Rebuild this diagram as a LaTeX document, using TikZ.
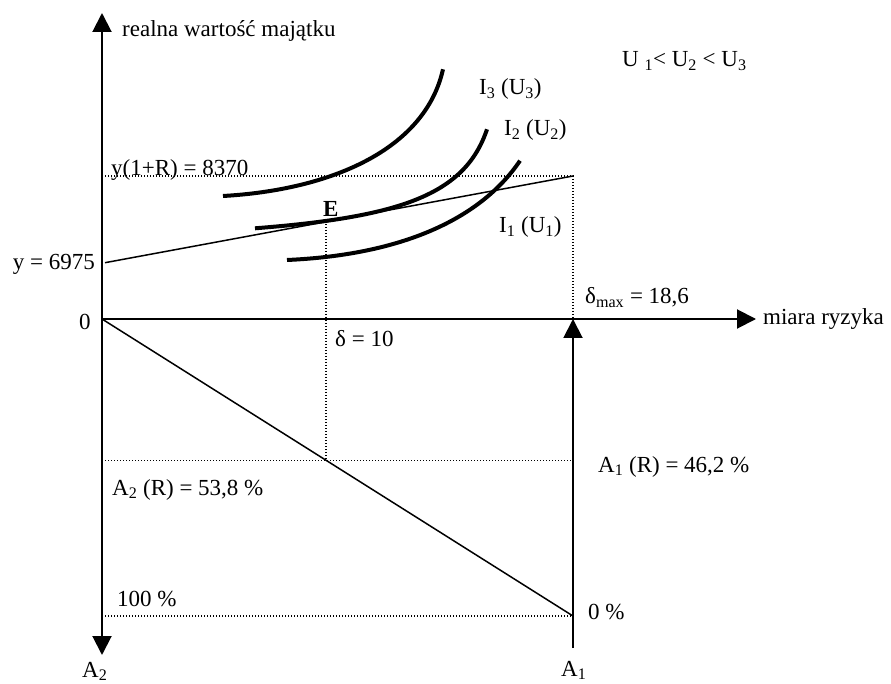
\documentclass[tikz,border=0pt]{standalone}
\usepackage{fontspec}
\setmainfont{Liberation Serif}
\usetikzlibrary{arrows.meta,positioning,calc}
\tikzset{
  axis/.style={line width=2pt,-{Triangle[length=19pt,width=19pt]}},
  guide/.style={line width=1.2pt,dash pattern=on 1.2pt off 1.8pt},
  thinline/.style={line width=1.5pt},
  indiff/.style={line width=4pt},
  lbl/.style={inner sep=0pt,anchor=base west,font=\fontsize{23}{27}\selectfont},
  lblr/.style={lbl,anchor=base east}
}

\begin{document}
\begin{tikzpicture}[x=1pt,y=-1pt]
    \useasboundingbox (0,0) rectangle (891,684);

    % key points
    \coordinate (O) at (102,319);
    \coordinate (Ytop) at (102,13);
    \coordinate (Ybot) at (102,655);
    \coordinate (Xend) at (756,319);
    \coordinate (Dmax) at (573,319);
    \coordinate (A1bot) at (573,648);
    \coordinate (Yl) at (105,262.7);
    \coordinate (Yr) at (573,176);
    \coordinate (Yax) at (102,176);
    \coordinate (E) at (326,221);
    \coordinate (Rmid) at (326,460.7);
    \coordinate (Rl) at (102,460.7);
    \coordinate (Rr) at (573,460.7);
    \coordinate (Bl) at (102,616);
    \coordinate (Br) at (573,616);

    % dotted guides
    \draw[guide] (Yax) -- (Yr) -- (Dmax);
    \draw[guide] (E) -- (Rmid);
    \draw[guide] (Rl) -- (Rr);
    \draw[guide] (Bl) -- (Br);

    % budget line and shares line
    \draw[thinline] (Yl) -- (Yr);
    \draw[thinline] (O) -- (Br);

    % indifference curves
    \draw[indiff] (223,196) .. controls (330,190) and (425,150) .. (443,69.3);
    \draw[indiff] (255,228.3) .. controls (400,217) and (465,195) .. (487,129.3);
    \draw[indiff] (287,260) .. controls (400,255) and (480,220) .. (520,160.7);

    % axes
    \draw[axis] (O) -- (Ytop);
    \draw[axis] (O) -- (Ybot);
    \draw[axis] (O) -- (Xend);
    \draw[axis] (A1bot) -- (Dmax);

    % labels
    \node[lbl] (wealth) at (122,37) {realna wartość majątku};
    \node[lbl] (order) at (622,66.7) {U \textsubscript{1}< U\textsubscript{2} < U\textsubscript{3}};
    \node[lbl] (I3) at (479,95) {I\textsubscript{3} (U\textsubscript{3})};
    \node[lbl] (I2) at (504,136) {I\textsubscript{2} (U\textsubscript{2})};
    \node[lbl] (I1) at (499,232.7) {I\textsubscript{1} (U\textsubscript{1})};
    \node[lbl] (ymax) at (111,176) {y(1+R) = 8370};
    \node[lbl,font=\fontsize{23}{27}\selectfont\bfseries] (Elab) at (323,216.7) {E};
    \node[lblr] (y0) at (95,269.3) {y = 6975};
    \node[lblr] (zero) at (90.7,330) {0};
    \node[lbl] (dmax) at (585,304) {δ\textsubscript{max} = 18,6};
    \node[lbl] (risk) at (763,325) {miara ryzyka};
    \node[lbl] (d10) at (335,346.7) {δ = 10};
    \node[lbl] (A1R) at (598,472) {A\textsubscript{1} (R) = 46,2 \%};
    \node[lbl] (A2R) at (112,495) {A\textsubscript{2} (R) = 53,8 \%};
    \node[lbl] (full) at (117,606.7) {100 \%};
    \node[lbl] (none) at (588,619.3) {0 \%};
    \node[lbl] (A2) at (82,677) {A\textsubscript{2}};
    \node[lbl] (A1) at (561,676) {A\textsubscript{1}};
\end{tikzpicture}
\end{document}
